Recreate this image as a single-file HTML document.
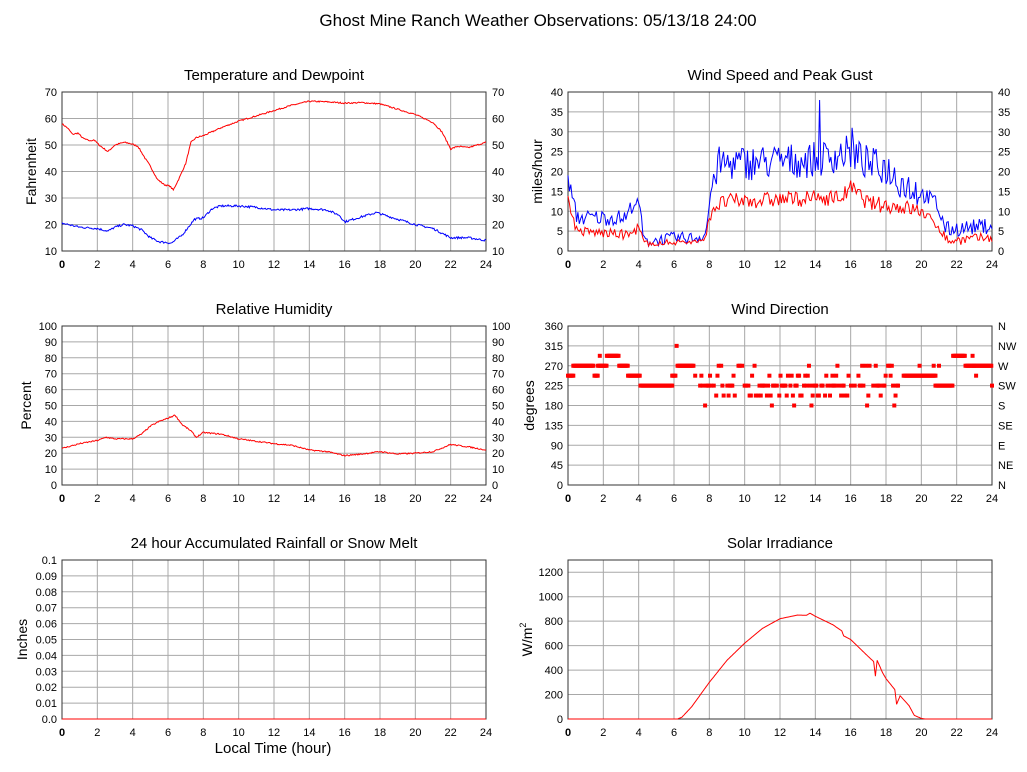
<!DOCTYPE html>
<html><head><meta charset="utf-8"><style>
html,body{margin:0;padding:0;background:#fff;}
svg{display:block;font-family:"Liberation Sans",sans-serif;}
</style></head><body>
<svg id="s" width="1027" height="772" xmlns="http://www.w3.org/2000/svg">
<rect width="1027" height="772" fill="#fff"/>
<text x="538" y="26" font-size="17" text-anchor="middle">Ghost Mine Ranch Weather Observations: 05/13/18 24:00</text>
</svg>
<script>
var S=document.getElementById('s'),NS='http://www.w3.org/2000/svg',out='';
var seed=7;function rnd(){seed=(seed*16807)%2147483647;return seed/2147483647;}
function interp(k,t){for(var i=0;i<k.length-1;i++){if(t<=k[i+1][0]){var a=k[i],b=k[i+1];return a[1]+(b[1]-a[1])*(t-a[0])/(b[0]-a[0]);}}return k[k.length-1][1];}
function T(x,y,s,txt,anc,extra){out+='<text x="'+x+'" y="'+y+'" font-size="'+s+'" text-anchor="'+(anc||'start')+'" '+(extra||'')+'>'+txt+'</text>';}
function panel(o){
 var x0=o.x,y0=o.y,w=424,h=159;
 T(x0+w/2,y0-12,15,o.title,'middle');
 for(var i=1;i<12;i++){var gx=x0+w*i/12;out+='<line x1="'+gx+'" y1="'+y0+'" x2="'+gx+'" y2="'+(y0+h)+'" stroke="#a8a8a8"/>';}
 var n=o.yt.length;
 for(var j=0;j<n;j++){var v=o.yt[j];var gy=y0+h-(v-o.ymin)/(o.ymax-o.ymin)*h;
  if(j>0&&v<o.ymax)out+='<line x1="'+x0+'" y1="'+gy+'" x2="'+(x0+w)+'" y2="'+gy+'" stroke="#a8a8a8"/>';
  T(x0-5,gy+4,11,o.yl?o.yl[j]:v,'end');
  if(o.rl)T(x0+w+6,gy+4,11,o.rl[j],'start');}
 for(var i=0;i<=12;i++){T(x0+w*i/12,y0+h+17,11,i*2,'middle',i==0?'font-weight="bold"':'');}
 out+='<rect x="'+x0+'" y="'+y0+'" width="'+w+'" height="'+h+'" fill="none" stroke="#333"/>';
 out+='<text font-size="14" text-anchor="middle" transform="translate('+o.ax+','+(y0+h/2)+') rotate(-90)">'+o.ylab+'</text>';
 o.px=function(t){return x0+t/24*w;};o.py=function(v){return y0+h-(v-o.ymin)/(o.ymax-o.ymin)*h;};
 return o;}
function line(p,f,col,N){var d='';N=N||480;for(var i=0;i<=N;i++){var t=24*i/N;var v=f(t);d+=(i?'L':'M')+p.px(t).toFixed(1)+','+p.py(v).toFixed(1);}out+='<path d="'+d+'" fill="none" stroke="'+col+'" stroke-width="1"/>';}
function rng(a,b){var r=[];for(var v=a;v<=b+1e-9;v+=(b-a)/(arguments[2]||1))r.push(+v.toFixed(2));return r;}
var p1=panel({x:62,y:92,title:'Temperature and Dewpoint',ymin:10,ymax:70,yt:[10,20,30,40,50,60,70],rl:[10,20,30,40,50,60,70],ylab:'Fahrenheit',ax:36});
var tk=[[0,58],[0.3,56.5],[0.6,54],[0.9,54.5],[1.2,52.5],[1.6,51.5],[1.8,52],[2.1,50],[2.6,47.5],[3,50],[3.5,51],[3.9,50.5],[4.3,49.5],[4.7,45],[5,42],[5.4,37],[5.8,35],[6.1,34.5],[6.3,33],[6.6,37],[7,43],[7.3,51],[7.6,52.8],[8,53.5],[9,56.5],[10,59],[11,61],[12,63],[13,65],[14,66.5],[15,66.3],[16,65.8],[17,66],[18,65.5],[19,63.5],[20,61.5],[21,58.5],[21.5,55],[22,48.5],[22.4,49.5],[23,49],[23.5,50],[24,51]];
var dk=[[0,20.5],[1,19],[2,18.5],[2.6,17.5],[3,19],[3.5,20],[4,19.5],[4.5,18],[5,15],[5.5,13.5],[6.2,13],[6.8,16],[7.5,22],[8,22.5],[8.5,26],[9,27],[10,27],[11,26.5],[12,25.5],[13,25.5],[14,26],[15,25.5],[15.7,23.5],[16,21],[17,23],[17.8,24.5],[18.5,23],[19,22],[20,20],[21,18.5],[22,15],[23,15],[24,14]];
line(p1,function(t){return interp(tk,t)+(rnd()-.5)*0.5;},'#f00');
line(p1,function(t){return interp(dk,t)+(rnd()-.5)*0.8;},'#00f');
var p2=panel({x:568,y:92,title:'Wind Speed and Peak Gust',ymin:0,ymax:40,yt:[0,5,10,15,20,25,30,35,40],rl:[0,5,10,15,20,25,30,35,40],ylab:'miles/hour',ax:542});
var gk=[[0,18],[0.5,8],[3.3,8],[3.7,12],[4.1,10],[4.3,2],[6,3],[7.3,3],[7.8,4],[8.1,15],[8.5,21],[14,22],[16,24],[17,21],[18,20],[19,16],[20,14],[20.8,12],[21.4,5],[24,6]];
var ak=[[0,13],[0.5,5],[3.5,4],[4,6],[4.3,2],[7.7,2.5],[8.2,11],[9,12.5],[15.5,13.5],[16,16],[17,12],[19,11],[20,10],[21,6],[21.5,2.5],[24,3.5]];
var G=[],A=[];for(var i=0;i<=300;i++){var t=24*i/300;var big=(t>8.3&&t<20);var low=(t>4.3&&t<7.9);var g=interp(gk,t)+(rnd()-.4)*(big?9:(low?3:4));var a=interp(ak,t)+(rnd()-.5)*(big?4:(low?1.5:2.5));if(Math.abs(t-14.24)<0.05)g=38;if(Math.abs(t-16.08)<0.05)g=31;G.push(Math.max(0,g));A.push(Math.max(0,Math.min(a,g)));}
line(p2,function(t){return G[Math.round(t/24*300)];},'#00f',300);
line(p2,function(t){return A[Math.round(t/24*300)];},'#f00',300);
var p3=panel({x:62,y:326,title:'Relative Humidity',ymin:0,ymax:100,yt:rng(0,100,10),rl:rng(0,100,10),ylab:'Percent',ax:31});
var hk=[[0,23],[1,26],[2,28],[2.5,30],[3,29],[4,29],[4.5,32],[5,37],[5.5,40],[6,42],[6.4,44],[6.8,38],[7.3,34],[7.6,30],[8,33],[9,32],[10,29],[12,26],[13,25],[14,22],[15,21],[16,18.5],[17,19.5],[18,21],[19,19.5],[20,20],[21,21],[22,25.5],[23,24],[24,22]];
line(p3,function(t){return interp(hk,t)+(rnd()-.5)*0.8;},'#f00');
var p4=panel({x:568,y:326,title:'Wind Direction',ymin:0,ymax:360,yt:[0,45,90,135,180,225,270,315,360],rl:['N','NE','E','SE','S','SW','W','NW','N'],ylab:'degrees',ax:534});
var seg=[[0,0.3,247.5],[0.3,1.5,270],[1.5,1.7,247.5],[1.7,2.2,270],[2.2,2.9,292.5],[2.9,3.4,270],[3.4,4.1,247.5],[4.1,5.9,225],[5.9,6.1,247.5],[6.2,7.1,270],[19,20.8,247.5],[20.8,21.8,225],[21.8,22.5,292.5],[22.5,23,270],[23,24,270]];
function dot(t,v){out+='<rect x="'+(p4.px(t)-2)+'" y="'+(p4.py(v)-2)+'" width="4" height="4" fill="#f00"/>';}
for(var k=0;k<seg.length;k++){for(var t=seg[k][0];t<=seg[k][1];t+=0.06)dot(t,seg[k][2]);}
dot(6.15,315);dot(1.8,292.5);dot(22.9,292.5);dot(23.1,247.5);dot(24,225);dot(19.9,270);dot(20.7,270);dot(21,270);
var ch=[180,202.5,202.5,225,225,225,225,247.5,247.5,270];
for(var t=7.2;t<19;t+=0.07){var v=ch[Math.floor(rnd()*ch.length)];if(rnd()<0.75)dot(t,v);}
var p5=panel({x:62,y:560,title:'24 hour Accumulated Rainfall or Snow Melt',ymin:0,ymax:0.1,yt:[0,0.01,0.02,0.03,0.04,0.05,0.06,0.07,0.08,0.09,0.1],yl:['0.0','0.01','0.02','0.03','0.04','0.05','0.06','0.07','0.08','0.09','0.1'],ylab:'Inches',ax:27});
line(p5,function(){return 0;},'#f00',2);
T(273,753,15,'Local Time (hour)','middle');
var p6=panel({x:568,y:560,title:'Solar Irradiance',ymin:0,ymax:1300,yt:[0,200,400,600,800,1000,1200],ylab:'W/m<tspan font-size="9" dy="-6">2</tspan>',ax:532});
var sk=[[0,0],[6.2,0],[6.45,15],[7,100],[8,300],[9,480],[10,620],[11,740],[12,820],[13,850],[13.5,848],[13.7,865],[14,840],[15,770],[15.5,720],[15.6,680],[16,650],[17,510],[17.3,470],[17.4,350],[17.5,480],[17.8,380],[18,330],[18.5,240],[18.6,120],[18.8,190],[19.3,110],[19.6,30],[20,5],[20.2,0],[24,0]];
line(p6,function(t){return interp(sk,t);},'#f00',960);
S.insertAdjacentHTML('beforeend',out);
</script>
</body></html>
